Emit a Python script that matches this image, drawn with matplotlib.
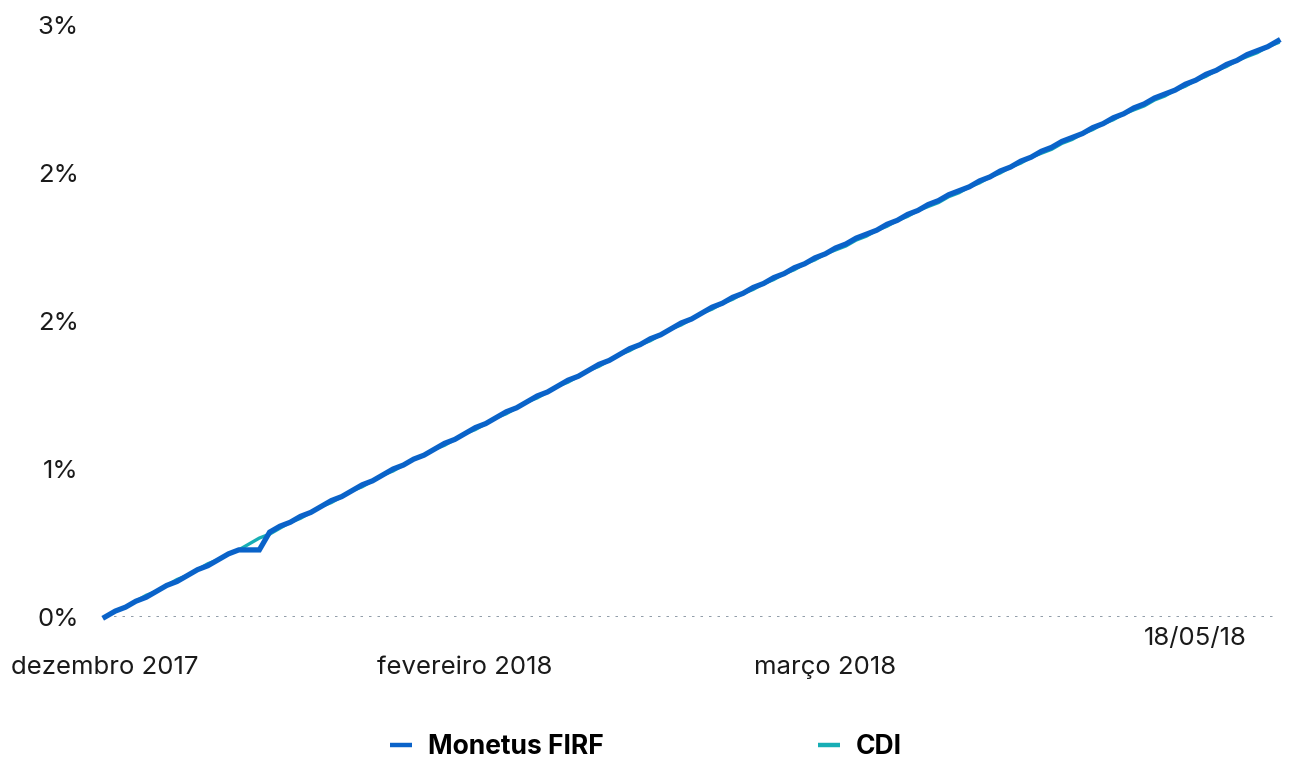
import matplotlib
matplotlib.use("Agg")
import matplotlib.pyplot as plt

plt.rcParams['font.family'] = ['Inter', 'DejaVu Sans']

# cumulative return, % (daily, dez/2017 .. 18/05/18)
cdi = [0.00, 0.03, 0.05, 0.08, 0.11, 0.13, 0.16, 0.19, 0.21, 0.24,
       0.27, 0.29, 0.32, 0.34, 0.37, 0.40, 0.42, 0.45, 0.48, 0.50,
       0.53, 0.56, 0.58, 0.61, 0.64, 0.66, 0.69, 0.72, 0.74, 0.77,
       0.80, 0.82, 0.85, 0.87, 0.90, 0.93, 0.95, 0.98, 1.01, 1.03,
       1.06, 1.09, 1.11, 1.14, 1.17, 1.19, 1.22, 1.25, 1.27, 1.30,
       1.33, 1.35, 1.38, 1.40, 1.43, 1.46, 1.48, 1.51, 1.54, 1.56,
       1.59, 1.61, 1.64, 1.66, 1.69, 1.71, 1.74, 1.76, 1.79, 1.81,
       1.84, 1.86, 1.88, 1.91, 1.93, 1.96, 1.98, 2.01, 2.03, 2.06,
       2.08, 2.10, 2.13, 2.15, 2.18, 2.20, 2.23, 2.25, 2.28, 2.30,
       2.33, 2.35, 2.37, 2.40, 2.42, 2.45, 2.47, 2.50, 2.52, 2.55,
       2.57, 2.59, 2.62, 2.64, 2.67, 2.69, 2.72, 2.74, 2.77, 2.79,
       2.82, 2.84, 2.86, 2.89, 2.91]
monetus = [0.00, 0.03, 0.05, 0.08, 0.10, 0.13, 0.16, 0.18, 0.21, 0.24,
           0.26, 0.29, 0.32, 0.34, 0.34, 0.34, 0.43, 0.46, 0.48, 0.51,
           0.53, 0.56, 0.59, 0.61, 0.64, 0.67, 0.69, 0.72, 0.75, 0.77,
           0.80, 0.82, 0.85, 0.88, 0.90, 0.93, 0.96, 0.98, 1.01, 1.04,
           1.06, 1.09, 1.12, 1.14, 1.17, 1.20, 1.22, 1.25, 1.28, 1.30,
           1.33, 1.36, 1.38, 1.41, 1.43, 1.46, 1.49, 1.51, 1.54, 1.57,
           1.59, 1.62, 1.64, 1.67, 1.69, 1.72, 1.74, 1.77, 1.79, 1.82,
           1.84, 1.87, 1.89, 1.92, 1.94, 1.96, 1.99, 2.01, 2.04, 2.06,
           2.09, 2.11, 2.14, 2.16, 2.18, 2.21, 2.23, 2.26, 2.28, 2.31,
           2.33, 2.36, 2.38, 2.41, 2.43, 2.45, 2.48, 2.50, 2.53, 2.55,
           2.58, 2.60, 2.63, 2.65, 2.67, 2.70, 2.72, 2.75, 2.77, 2.80,
           2.82, 2.85, 2.87, 2.89, 2.92]
x_labels = ['dezembro 2017', 'fevereiro 2018', 'março 2018']
x_label_pos = [0, 35, 70]
last_label = '18/05/18'
last_label_pos = 106
y_ticks = [0, 0.75, 1.5, 2.25, 3.0]
y_labels = ['0%', '1%', '2%', '2%', '3%']

BLUE = '#0a63c9'
TEAL = '#17aeb5'
TXT = '#1a1a1a'

fig = plt.figure(figsize=(12.89, 7.60), dpi=100)
ax = fig.add_axes([105 / 1289, 143 / 760, 1173 / 1289, 592 / 760])

idx = list(range(len(cdi)))
ax.axhline(0, color='#6f7f8f', lw=1.8, ls=(0, (1, 2.4)), zorder=1)
ax.plot(idx, cdi, color=TEAL, lw=2.4, label='CDI', zorder=2, clip_on=False)
ax.plot(idx, monetus, color=BLUE, lw=3.8, label='Monetus FIRF', zorder=3,
        clip_on=False, solid_joinstyle='miter')

ax.set_xlim(0, len(cdi) - 1)
ax.set_ylim(0, 3.0)
for s in ax.spines.values():
    s.set_visible(False)

ax.set_yticks(y_ticks)
ax.set_yticklabels(y_labels)
ax.set_xticks(x_label_pos)
ax.set_xticklabels(x_labels)
ax.tick_params(axis='both', length=0, labelsize=18.5, colors=TXT)
ax.tick_params(axis='x', pad=28)
ax.tick_params(axis='y', pad=19)
ax.text(last_label_pos, -0.05, last_label, ha='center', va='top',
        fontsize=18.5, color=TXT, transform=ax.transData)

handles, labels = ax.get_legend_handles_labels()
leg = fig.legend(handles[::-1], labels[::-1], loc='center', ncol=2,
                 bbox_to_anchor=(646 / 1289, 13 / 760), frameon=False,
                 handlelength=0.85, handletextpad=0.6, columnspacing=8.1,
                 prop={'size': 19, 'weight': 'bold'})
for line in leg.get_lines():
    line.set_linewidth(3.2)
    line.set_solid_capstyle('butt')

fig.savefig('out.png', dpi=100)
